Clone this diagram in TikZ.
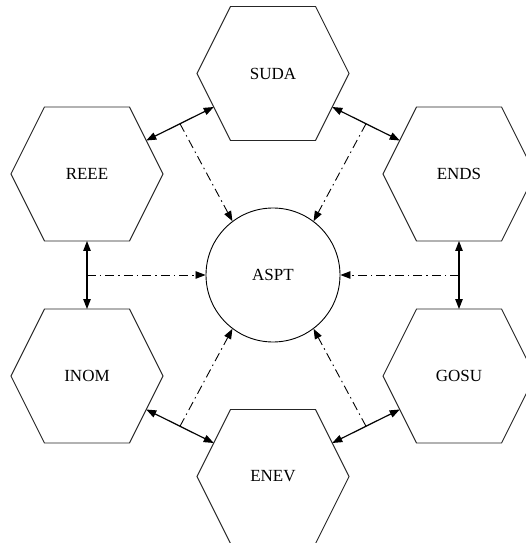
\documentclass[tikz,border=0pt]{standalone}
\usepackage{fontspec}
\setmainfont{Liberation Serif}
\usetikzlibrary{calc,arrows.meta}

\tikzset{
  lbl/.style={font=\fontsize{17}{20}\selectfont, inner sep=0pt},
  hexline/.style={draw=black!85, line width=0.9pt, line join=miter},
  ringnode/.style={circle, draw=black, line width=0.9pt, minimum size=134pt, inner sep=0pt,
                   font=\fontsize{17}{20}\selectfont},
  link/.style={line width=1.2pt, {Triangle[length=10pt,width=7.5pt]}-{Triangle[length=10pt,width=7.5pt]}},
  feed/.style={line width=0.9pt, dash pattern=on 9pt off 4pt on 1.5pt off 4pt,
               -{Triangle[length=10pt,width=7.5pt]}}
}

\begin{document}
\begin{tikzpicture}[x=1pt,y=1pt]
  \useasboundingbox (-273,-268) rectangle (253,275);
  \clip (-273,-268) rectangle (253,275);

  % centre circle
  \node[ringnode] (aspt) at (0,0) {ASPT};

  % labels of the six hexagons
  \node[lbl] (suda) at (0,201.5)   {SUDA};
  \node[lbl] (ends) at (186,101)   {ENDS};
  \node[lbl] (gosu) at (186,-101)  {GOSU};
  \node[lbl] (enev) at (0,-201.5)  {ENEV};
  \node[lbl] (inom) at (-186,-101) {INOM};
  \node[lbl] (reee) at (-186,101)  {REEE};

  % hexagon outlines and the midpoints of their edges
  \foreach \n in {suda,ends,gosu,enev,inom,reee}{
    \draw[hexline, shift={(\n.center)}]
      (-76,0) -- (-42.5,67) -- (42.5,67) -- (76,0) -- (42.5,-67) -- (-42.5,-67) -- cycle;
    \coordinate (\n-n)  at ($(\n.center)+(0,67)$);
    \coordinate (\n-s)  at ($(\n.center)+(0,-67)$);
    \coordinate (\n-ne) at ($(\n.center)+(59.25,33.5)$);
    \coordinate (\n-nw) at ($(\n.center)+(-59.25,33.5)$);
    \coordinate (\n-se) at ($(\n.center)+(59.25,-33.5)$);
    \coordinate (\n-sw) at ($(\n.center)+(-59.25,-33.5)$);
  }

  % two-way links between neighbouring hexagons
  \draw[link] (reee-ne) -- (suda-sw);
  \draw[link] (suda-se) -- (ends-nw);
  \draw[link] (ends-s)  -- (gosu-n);
  \draw[link] (gosu-sw) -- (enev-ne);
  \draw[link] (enev-nw) -- (inom-se);
  \draw[link] (inom-n)  -- (reee-s);

  % midpoints of the links
  \coordinate (m1) at ($(reee-ne)!0.5!(suda-sw)$);
  \coordinate (m2) at ($(suda-se)!0.5!(ends-nw)$);
  \coordinate (m3) at ($(ends-s)!0.5!(gosu-n)$);
  \coordinate (m4) at ($(gosu-sw)!0.5!(enev-ne)$);
  \coordinate (m5) at ($(enev-nw)!0.5!(inom-se)$);
  \coordinate (m6) at ($(inom-n)!0.5!(reee-s)$);

  % dash-dotted feeds into the centre
  \draw[feed] (m1) -- (aspt.127);
  \draw[feed] (m2) -- (aspt.53);
  \draw[feed] (m3) -- (aspt.0);
  \draw[feed] (m4) -- (aspt.-53);
  \draw[feed] (m5) -- (aspt.233);
  \draw[feed] (m6) -- (aspt.180);
\end{tikzpicture}
\end{document}
